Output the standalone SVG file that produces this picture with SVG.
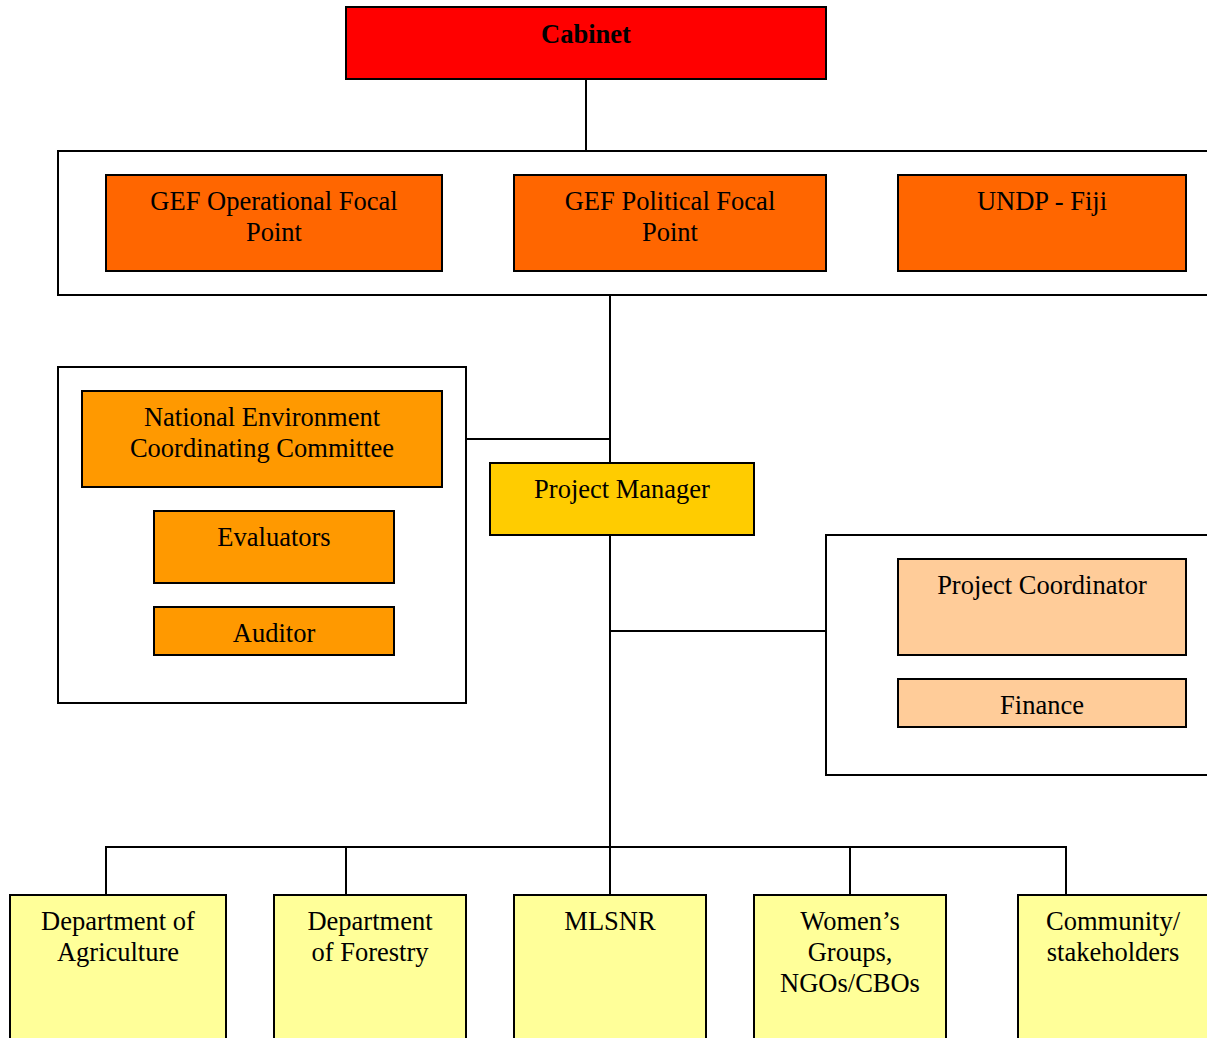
<svg xmlns="http://www.w3.org/2000/svg" width="1207" height="1038" viewBox="0 0 1207 1038">
<style>
.n rect,.c{stroke:#000;stroke-width:2}
.c{fill:#fff}
text{font-family:"Liberation Serif","Times New Roman",serif;font-size:26.5px;fill:#000;text-anchor:middle}
.b{font-weight:bold}
#connectors line{stroke:#000;stroke-width:2}
</style>
<rect width="1207" height="1038" fill="#fff"/>
<g id="containers">
<rect class="c" x="58" y="151" width="1160" height="144"/>
<rect class="c" x="58" y="367" width="408" height="336"/>
<rect class="c" x="826" y="535" width="392" height="240"/>
</g>
<g id="connectors">
<line x1="586" y1="79" x2="586" y2="151"/>
<line x1="610" y1="295" x2="610" y2="463"/>
<line x1="466" y1="439" x2="610" y2="439"/>
<line x1="610" y1="535" x2="610" y2="847"/>
<line x1="610" y1="631" x2="826" y2="631"/>
<line x1="105" y1="847" x2="1067" y2="847"/>
<line x1="106" y1="847" x2="106" y2="895"/>
<line x1="346" y1="847" x2="346" y2="895"/>
<line x1="610" y1="847" x2="610" y2="895"/>
<line x1="850" y1="847" x2="850" y2="895"/>
<line x1="1066" y1="847" x2="1066" y2="895"/>
</g>
<g id="cabinet" class="n"><rect x="346" y="7" width="480" height="72" fill="#FF0000"/><text class="b" x="586" y="43">Cabinet</text></g>
<g id="gef-op" class="n"><rect x="106" y="175" width="336" height="96" fill="#FF6600"/><text x="274" y="210">GEF Operational Focal</text><text x="274" y="241">Point</text></g>
<g id="gef-pol" class="n"><rect x="514" y="175" width="312" height="96" fill="#FF6600"/><text x="670" y="210">GEF Political Focal</text><text x="670" y="241">Point</text></g>
<g id="undp" class="n"><rect x="898" y="175" width="288" height="96" fill="#FF6600"/><text x="1042" y="210">UNDP - Fiji</text></g>
<g id="necc" class="n"><rect x="82" y="391" width="360" height="96" fill="#FF9900"/><text x="262" y="426">National Environment</text><text x="262" y="457">Coordinating Committee</text></g>
<g id="evaluators" class="n"><rect x="154" y="511" width="240" height="72" fill="#FF9900"/><text x="274" y="546">Evaluators</text></g>
<g id="auditor" class="n"><rect x="154" y="607" width="240" height="48" fill="#FF9900"/><text x="274" y="642">Auditor</text></g>
<g id="pm" class="n"><rect x="490" y="463" width="264" height="72" fill="#FFCC00"/><text x="622" y="498">Project Manager</text></g>
<g id="pc" class="n"><rect x="898" y="559" width="288" height="96" fill="#FFCC99"/><text x="1042" y="594">Project Coordinator</text></g>
<g id="finance" class="n"><rect x="898" y="679" width="288" height="48" fill="#FFCC99"/><text x="1042" y="714">Finance</text></g>
<g id="agri" class="n"><rect x="10" y="895" width="216" height="160" fill="#FFFF99"/><text x="118" y="930">Department of</text><text x="118" y="961">Agriculture</text></g>
<g id="forestry" class="n"><rect x="274" y="895" width="192" height="160" fill="#FFFF99"/><text x="370" y="930">Department</text><text x="370" y="961">of Forestry</text></g>
<g id="mlsnr" class="n"><rect x="514" y="895" width="192" height="160" fill="#FFFF99"/><text x="610" y="930">MLSNR</text></g>
<g id="women" class="n"><rect x="754" y="895" width="192" height="160" fill="#FFFF99"/><text x="850" y="930">Women’s</text><text x="850" y="961">Groups,</text><text x="850" y="992">NGOs/CBOs</text></g>
<g id="community" class="n"><rect x="1018" y="895" width="200" height="160" fill="#FFFF99"/><text x="1113" y="930">Community/</text><text x="1113" y="961">stakeholders</text></g>
</svg>
